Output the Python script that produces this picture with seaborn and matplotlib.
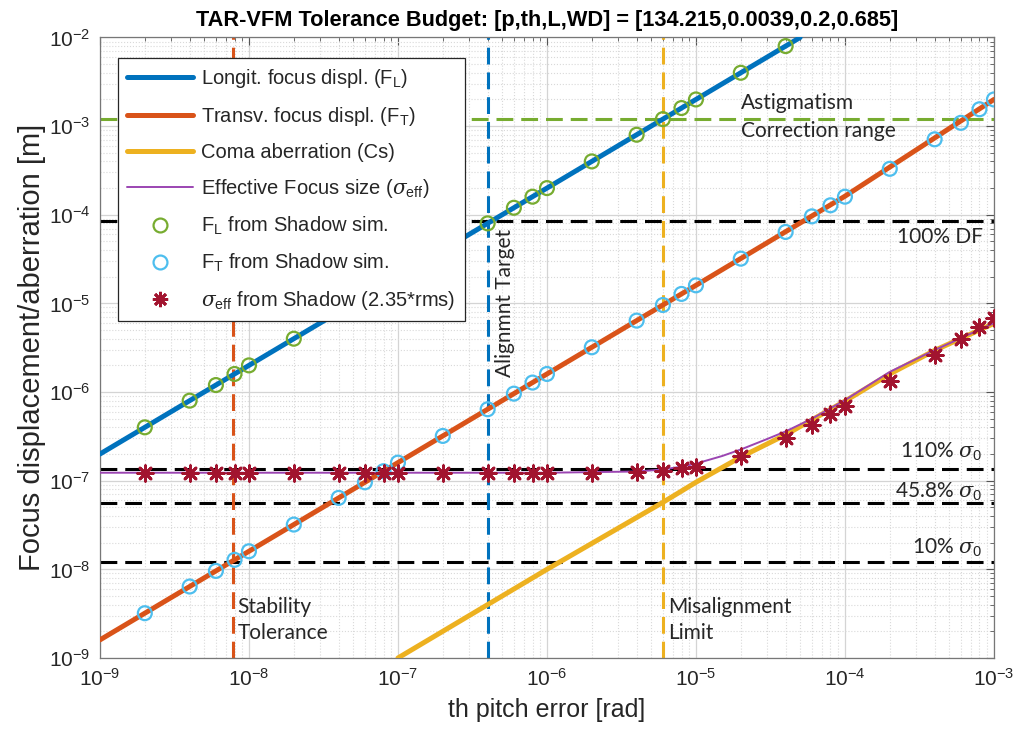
import matplotlib
matplotlib.use("Agg")
import matplotlib.pyplot as plt
import seaborn as sns
from matplotlib.lines import Line2D

# Pitch-error samples used in the Shadow ray-tracing runs [rad]
th_sim = [2e-9, 4e-9, 6e-9, 8e-9, 1e-8,
          2e-8, 4e-8, 6e-8, 8e-8, 1e-7,
          2e-7, 4e-7, 6e-7, 8e-7, 1e-6,
          2e-6, 4e-6, 6e-6, 8e-6, 1e-5,
          2e-5, 4e-5, 6e-5, 8e-5, 1e-4,
          2e-4, 4e-4, 6e-4, 8e-4, 1e-3]

# Longitudinal focus displacement from Shadow (points inside the plotted range)
th_fl_sim = th_sim[:22]
fl_sim = [4e-7, 8e-7, 1.2e-6, 1.6e-6, 2e-6,
          4e-6, 8e-6, 1.2e-5, 1.6e-5, 2e-5,
          4e-5, 8e-5, 1.2e-4, 1.6e-4, 2e-4,
          4e-4, 8e-4, 1.2e-3, 1.6e-3, 2e-3,
          4e-3, 8e-3]

# Transverse focus displacement from Shadow
ft_sim = [3.2e-9, 6.4e-9, 9.6e-9, 1.28e-8, 1.6e-8,
          3.2e-8, 6.4e-8, 9.6e-8, 1.28e-7, 1.6e-7,
          3.2e-7, 6.4e-7, 9.6e-7, 1.28e-6, 1.6e-6,
          3.2e-6, 6.4e-6, 9.6e-6, 1.28e-5, 1.6e-5,
          3.2e-5, 6.4e-5, 9.6e-5, 1.28e-4, 1.6e-4,
          3.3e-4, 7.1e-4, 1.09e-3, 1.55e-3, 2.0e-3]

# Effective focus size from Shadow (2.35*rms)
sig_sim = [1.23e-7, 1.23e-7, 1.23e-7, 1.23e-7, 1.23e-7,
           1.23e-7, 1.23e-7, 1.23e-7, 1.23e-7, 1.23e-7,
           1.23e-7, 1.23e-7, 1.23e-7, 1.23e-7, 1.23e-7,
           1.23e-7, 1.25e-7, 1.3e-7, 1.38e-7, 1.43e-7,
           1.9e-7, 3.06e-7, 4.25e-7, 5.6e-7, 6.95e-7,
           1.33e-6, 2.6e-6, 3.93e-6, 5.46e-6, 6.8e-6]

# Analytical curves
th_fl_line = [1e-9, 5e-5]
fl_line = [2e-7, 1e-2]

th_ft_line = [1e-9, 1e-8, 1e-7, 1e-6, 1e-5, 1e-4, 1e-3]
ft_line = [1.6e-9, 1.6e-8, 1.6e-7, 1.6e-6, 1.6e-5, 1.62e-4, 2.0e-3]

th_coma = [1e-7, 1e-6, 6e-6, 1e-5, 2e-5, 4e-5, 1e-4, 2e-4, 4e-4, 1e-3]
coma = [1e-9, 1e-8, 5.7e-8, 9.6e-8, 1.85e-7, 3.3e-7, 7.9e-7, 1.6e-6, 2.95e-6, 5.95e-6]

th_eff = [1e-9, 1e-6, 4e-6, 6e-6, 8e-6, 1e-5, 1.5e-5, 2e-5, 3e-5, 4e-5,
          6e-5, 1e-4, 2e-4, 4e-4, 1e-3]
sig_eff = [1.23e-7, 1.23e-7, 1.27e-7, 1.34e-7, 1.44e-7, 1.56e-7, 1.9e-7, 2.25e-7,
           2.95e-7, 3.6e-7, 5.0e-7, 8.1e-7, 1.69e-6, 2.98e-6, 6.0e-6]

# Tolerance thresholds
astig_level = 1.2e-3
df_level = 8.5e-5
sigma_levels = [1.35e-7, 5.6e-8, 1.22e-8]
sigma_labels = [r"110% $\sigma_0$", r"45.8% $\sigma_0$", r"10% $\sigma_0$"]
stability_th = 7.8e-9
alignment_th = 4e-7
misalign_th = 6e-6

C_BLUE = "#0072BD"
C_ORANGE = "#D95319"
C_YELLOW = "#EDB120"
C_PURPLE = "#9B45B2"
C_GREEN = "#77AC30"
C_CYAN = "#4DBEEE"
C_MAROON = "#A2142F"
C_TEXT = "#262626"

sns.set_theme(style="white")
plt.rcParams["font.family"] = ["Liberation Sans", "DejaVu Sans"]
plt.rcParams["mathtext.fontset"] = "custom"
plt.rcParams["mathtext.rm"] = "Liberation Sans"
plt.rcParams["mathtext.it"] = "DejaVu Serif:italic"
plt.rcParams["mathtext.bf"] = "Liberation Sans:bold"

fig = plt.figure(figsize=(10.19, 7.44), dpi=100)
ax = fig.add_axes([0.0981, 0.1156, 0.8773, 0.834])
ax.set_xscale("log")
ax.set_yscale("log")
ax.set_xlim(1e-9, 1e-3)
ax.set_ylim(1e-9, 1e-2)

ax.grid(True, which="major", color="#d4d4d4", lw=0.9, zorder=0)
ax.grid(True, which="minor", color="#d9d9d9", lw=0.8, ls=":", zorder=0)
ax.set_axisbelow(True)

dash = (5.5, 2.6)
# Horizontal tolerance levels
ax.axhline(astig_level, color=C_GREEN, lw=2.2, dashes=dash, zorder=2)
ax.axhline(df_level, color="black", lw=2.2, dashes=dash, zorder=2)
for lv in sigma_levels:
    ax.axhline(lv, color="black", lw=2.2, dashes=dash, zorder=2)
# Vertical tolerance markers
ax.axvline(stability_th, color=C_ORANGE, lw=2.2, dashes=dash, zorder=2)
ax.axvline(alignment_th, color=C_BLUE, lw=2.2, dashes=dash, zorder=2)
ax.axvline(misalign_th, color=C_YELLOW, lw=2.2, dashes=dash, zorder=2)

# Analytical curves
sns.lineplot(x=th_fl_line, y=fl_line, color=C_BLUE, lw=3.6, ax=ax, zorder=3)
sns.lineplot(x=th_ft_line, y=ft_line, color=C_ORANGE, lw=3.6, ax=ax, zorder=3)
sns.lineplot(x=th_coma, y=coma, color=C_YELLOW, lw=3.6, ax=ax, zorder=3)
sns.lineplot(x=th_eff, y=sig_eff, color=C_PURPLE, lw=1.4, ax=ax, zorder=4)

# Shadow simulation points
sns.scatterplot(x=th_fl_sim, y=fl_sim, marker="o", s=100, facecolor="none",
                edgecolor=C_GREEN, linewidth=1.6, ax=ax, zorder=5)
sns.scatterplot(x=th_sim, y=ft_sim, marker="o", s=100, facecolor="none",
                edgecolor=C_CYAN, linewidth=1.6, ax=ax, zorder=5)
sns.scatterplot(x=th_sim, y=sig_sim, marker=(8, 2, 0), s=125, color=C_MAROON,
                linewidth=2.0, ax=ax, zorder=6)

ax.tick_params(which="both", direction="in", top=True, right=True,
               color="#555555", labelsize=15, labelcolor=C_TEXT)
ax.tick_params(which="major", length=6, width=0.8, pad=7)
ax.tick_params(which="minor", length=3, width=0.6)
for sp in ax.spines.values():
    sp.set_color("#777777")
    sp.set_linewidth(0.9)

ax.set_xlabel("th pitch error [rad]", fontsize=18, color=C_TEXT, labelpad=6)
ax.set_ylabel("Focus displacement/aberration [m]", fontsize=21, color=C_TEXT, labelpad=2)
ax.set_title("TAR-VFM Tolerance Budget: [p,th,L,WD] = [134.215,0.0039,0.2,0.685]",
             fontsize=15.7, fontweight="bold", color="black", pad=8)

# Annotations
note = dict(family=["Lato", "DejaVu Sans"], fontsize=15, color=C_TEXT)
ax.text(2e-5, 1.82e-3, "Astigmatism", va="center", ha="left", **note)
ax.text(2e-5, 8.8e-4, "Correction range", va="center", ha="left", **note)
ax.text(8.4e-4, 5.6e-5, "100% DF", va="center", ha="right", **note)
for lv_y, lab in zip([2.1e-7, 7.4e-8, 1.73e-8], sigma_labels):
    ax.text(8.4e-4, lv_y, lab, va="center", ha="right", **note)
ax.text(8.4e-9, 3.73e-9, "Stability", va="center", ha="left", **note)
ax.text(8.4e-9, 1.9e-9, "Tolerance", va="center", ha="left", **note)
ax.text(6.5e-6, 3.8e-9, "Misalignment", va="center", ha="left", **note)
ax.text(6.5e-6, 1.9e-9, "Limit", va="center", ha="left", **note)
ax.text(5.2e-7, 1.0e-5, "Alignmnt Target", va="center", ha="center", rotation=90, **note)

handles = [
    Line2D([], [], color=C_BLUE, lw=3.6),
    Line2D([], [], color=C_ORANGE, lw=3.6),
    Line2D([], [], color=C_YELLOW, lw=3.6),
    Line2D([], [], color=C_PURPLE, lw=1.4),
    Line2D([], [], ls="none", marker="o", ms=10, mfc="none", mec=C_GREEN, mew=1.6),
    Line2D([], [], ls="none", marker="o", ms=10, mfc="none", mec=C_CYAN, mew=1.6),
    Line2D([], [], ls="none", marker=(8, 2, 0), ms=11, color=C_MAROON, mew=2.0),
]
labels = [
    r"Longit. focus displ. (F$_\mathrm{L}$)",
    r"Transv. focus displ. (F$_\mathrm{T}$)",
    "Coma aberration (Cs)",
    r"Effective Focus size ($\sigma_\mathrm{eff}$)",
    r"F$_\mathrm{L}$ from Shadow sim.",
    r"F$_\mathrm{T}$ from Shadow sim.",
    r"$\sigma_\mathrm{eff}$ from Shadow (2.35*rms)",
]
leg = ax.legend(handles, labels, loc="upper left", bbox_to_anchor=(0.02, 0.967),
                borderaxespad=0, fontsize=14.5, frameon=True, fancybox=False,
                framealpha=1, edgecolor="#262626", handlelength=3.3,
                handletextpad=0.4, labelspacing=0.74, borderpad=0.45)
leg.get_frame().set_linewidth(0.9)
leg.set_zorder(10)
for t in leg.get_texts():
    t.set_color(C_TEXT)

fig.savefig("out.png", dpi=100)
